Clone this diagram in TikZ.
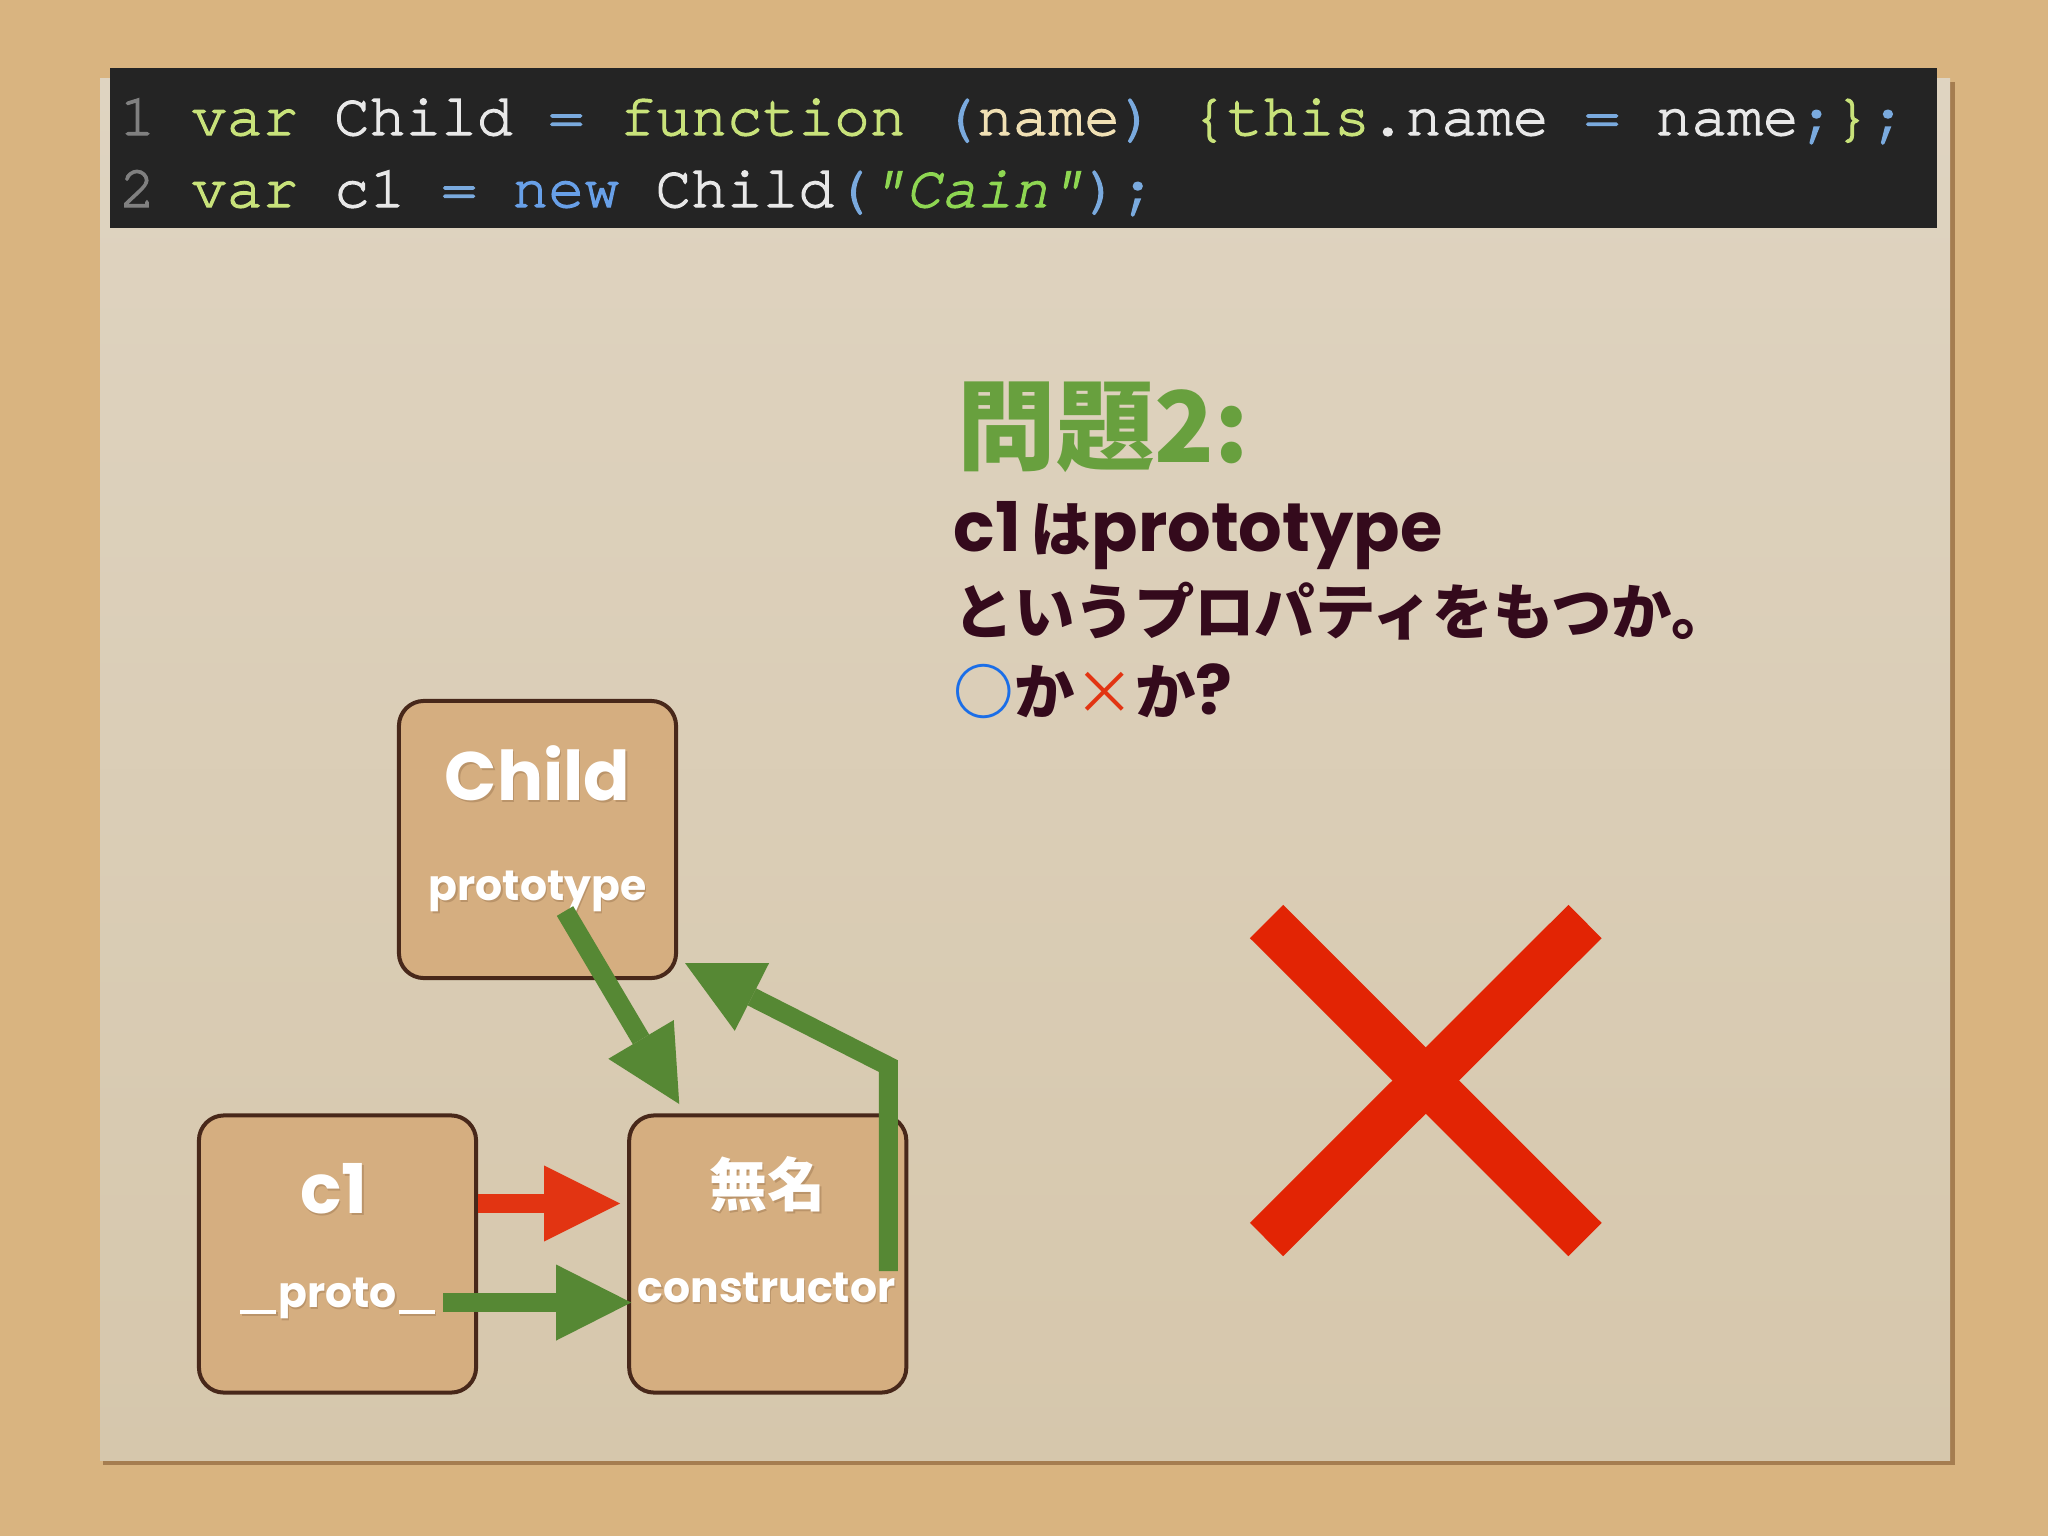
\documentclass[tikz,border=0pt]{standalone}
\usepackage{fontspec}
\usepackage{xcolor}
\usetikzlibrary{arrows.meta,positioning}
\newfontfamily\jpfont{Noto Sans CJK JP}
\newfontfamily\popfont{Poppins}
\newfontfamily\codefont{texgyrecursor}[Extension=.otf, UprightFont=*-regular, ItalicFont=*-italic, FakeBold=2.2, UprightFeatures={FakeBold=2.2}, ItalicFeatures={FakeBold=2.2}]
\definecolor{cork}{RGB}{217,180,128}
\definecolor{papertop}{RGB}{223,212,193}
\definecolor{paperbottom}{RGB}{214,199,172}
\definecolor{papershadow}{RGB}{165,125,80}
\definecolor{codebg}{RGB}{36,36,36}
\definecolor{codenum}{RGB}{128,128,128}
\definecolor{codekw}{RGB}{200,226,122}
\definecolor{codetxt}{RGB}{232,232,232}
\definecolor{codeop}{RGB}{122,170,222}
\definecolor{codenew}{RGB}{104,160,232}
\definecolor{codeparam}{RGB}{240,224,180}
\definecolor{codestr}{RGB}{142,214,82}
\definecolor{boxfill}{RGB}{213,174,128}
\definecolor{boxline}{RGB}{72,40,26}
\definecolor{txtshadow}{RGB}{186,148,106}
\definecolor{arrowgreen}{RGB}{86,136,52}
\definecolor{arrowred}{RGB}{226,52,18}
\definecolor{bigred}{RGB}{226,36,4}
\definecolor{headgreen}{RGB}{104,160,62}
\definecolor{qcolor}{RGB}{52,10,28}
\definecolor{maru}{RGB}{26,110,232}
\newcommand{\shadowed}[1]{\makebox[0pt][l]{\kern0.15mm\raisebox{-0.25mm}{\textcolor{txtshadow}{#1}}}#1}
\newcommand{\lat}[1]{{\popfont\bfseries\fontsize{19.5}{22}\selectfont #1}}
\newcommand{\uline}{\rule[-0.65mm]{3.6mm}{0.4mm}}

\begin{document}
\begin{tikzpicture}[x=0.01cm,y=-0.01cm,>=Triangle]
    \tikzset{box/.style= {draw=boxline, line width=0.4mm, fill=boxfill, rounded corners=2.5mm, minimum size=27.7mm, inner sep=0pt} }
    \tikzset{title/.style= {text=white, anchor=base, inner sep=0pt, font={\popfont\bfseries\fontsize{19.5}{24}\selectfont}} }
    \tikzset{jptitle/.style= {text=white, anchor=base, inner sep=0pt, font={\jpfont\bfseries\fontsize{16.5}{20}\selectfont}} }
    \tikzset{prop/.style= {text=white, anchor=base, inner sep=0pt, font={\popfont\bfseries\fontsize{12.1}{15}\selectfont}} }
    \tikzset{code/.style= {anchor=base west, inner sep=0pt, font={\codefont\fontsize{16.93}{20}\selectfont}} }
    \tikzset{qhead/.style= {anchor=base west, inner sep=0pt, text=headgreen, font={\jpfont\bfseries\fontsize{28}{32}\selectfont}} }
    \tikzset{qline/.style= {anchor=base west, inner sep=0pt, text=qcolor, font={\jpfont\bfseries\fontsize{17.2}{20}\selectfont}} }
    \tikzset{greenarrow/.style= {draw=arrowgreen, line width=1.9mm, -{Triangle[length=7.5mm,width=7.6mm,line width=0pt]}} }
    \tikzset{redarrow/.style= {draw=arrowred, line width=1.9mm, -{Triangle[length=7.6mm,width=7.6mm,line width=0pt]}} }
    \tikzset{bigx/.style= {draw=bigred, line width=4.7mm} }

    \useasboundingbox (0,0) rectangle (2048,1536);
    % cork board and paper
    \fill[cork] (0,0) rectangle (2048,1536);
    \fill[papershadow] (103,82) rectangle (1955,1465);
    \shade[top color=papertop, bottom color=paperbottom] (100,78) rectangle (1950,1460);

    % code
    \fill[codebg] (110,68) rectangle (1937,228);
    \node[code] (line1) at (119,135) {\color{codenum}1 \color{codekw}var \color{codetxt}Child \color{codeop}= \color{codekw}function \color{codeop}(\color{codeparam}name\color{codeop}) \color{codekw}\{this\color{codetxt}.name \color{codeop}= \color{codetxt}name\color{codeop};\color{codekw}\}\color{codeop};};
    \node[code] (line2) at (119,207) {\color{codenum}2 \color{codekw}var \color{codetxt}c1 \color{codeop}= \color{codenew}new \color{codetxt}Child\color{codeop}(\color{codestr}\itshape"Cain"\upshape\color{codeop});};

    % boxes
    \node[box] (child) at (537.5,839.5) {};
    \node[box] (c1) at (337.5,1254) {};
    \node[box] (anon) [right= 1.49cm of c1] {};

    \node[title] (child-name) at (537.5,800) {\shadowed{Child}};
    \node[prop] (child-prop) at (537.5,900) {\shadowed{prototype}};
    \node[title] (c1-name) at (334,1213) {\shadowed{c1}};
    \node[prop] (c1-prop) at (337.5,1307) {\shadowed{\uline\kern0.2mm proto\kern0.2mm\uline}};
    \node[jptitle] (anon-name) at (767.5,1206) {\shadowed{無名}};
    \node[prop] (anon-prop) at (766.5,1302) {\shadowed{constructor}};

    \path[draw, redarrow] ([yshift=5.05mm]c1.east) -- ([xshift=-0.7mm,yshift=5.05mm]anon.west);
    \path[draw, greenarrow] ([xshift=-3.5mm,yshift=-4.85mm]c1.east) -- ([xshift=0.4mm,yshift=-4.85mm]anon.west);
    \path[draw, greenarrow] ([shift={(27.5,71.5)}]child.center) -- ([shift={(-88.5,-150)}]anon.center);
    \path[draw, greenarrow, line join=miter] ([shift={(120.5,17)}]anon.center) -- ([shift={(120.5,-188)}]anon.center) -- ([shift={(147.5,123.5)}]child.center);

    % question
    \node[qhead] (q-head) at (957,462) {問題2:};
    \node[qline] (q-line1) at (953,551) {\lat{c1}\kern1mm は\lat{prototype}};
    \node[qline] (q-line2) at (953,634) {というプロパティをもつか。};
    \node[qline] (q-line3) at (953,714) {{\color{maru}○}か{\mdseries\color{arrowred}×}か\lat{?}};

    % answer
    \draw[bigx] (1266.5,921.5) -- (1585,1239.5);
    \draw[bigx] (1585,921.5) -- (1266.5,1239.5);
\end{tikzpicture}
\end{document}
